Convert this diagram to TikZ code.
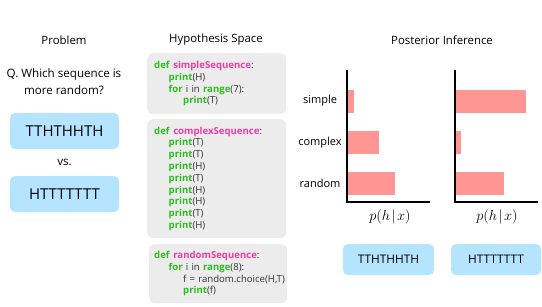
\documentclass[tikz,border=0pt]{standalone}
\usepackage{fontspec}
\setmainfont{Open Sans}
\usepackage{xcolor}
\usepackage{tikz}
\usetikzlibrary{positioning}
\definecolor{seqblue}{RGB}{180,228,255}
\definecolor{codegray}{RGB}{236,236,236}
\definecolor{codegreen}{RGB}{45,190,30}
\definecolor{codepink}{RGB}{240,60,160}
\definecolor{barred}{RGB}{255,150,148}
\newcommand{\kw}[1]{\textcolor{codegreen}{\textbf{#1}}}
\newcommand{\fname}[1]{\textcolor{codepink}{\textbf{#1}}}
\newcommand{\ind}{\hspace*{14.5pt}}
\tikzset{
  title/.style={font=\fontsize{11.4}{13}\selectfont},
  question/.style={align=center, font=\fontsize{11.6}{17}\selectfont},
  seqbox/.style={
    rectangle, rounded corners=5pt, fill=seqblue,
    minimum width=109pt, minimum height=36pt, inner sep=0pt,
    font=\fontsize{15}{18}\selectfont
  },
  smallseq/.style={seqbox, minimum width=91pt, minimum height=31pt, font=\fontsize{11.8}{14}\selectfont},
  codebox/.style={
    rectangle, rounded corners=6pt, fill=codegray, anchor=north west,
    text width=125pt, inner xsep=7pt, inner ysep=0pt, align=left,
    text=black!80, font=\fontsize{9.6}{11.8}\selectfont
  },
  hlabel/.style={font=\fontsize{11}{12}\selectfont},
  axis/.style={line width=1.5pt, draw=black},
  bar/.style={fill=barred},
}

\begin{document}
\begin{tikzpicture}[x=1pt, y=-1pt, node distance=4pt]
    \useasboundingbox (0,0) rectangle (542,306);
    % problem
    \node[title] (probtitle) at (64,40) {Problem};
    \node[question] (question) at (64,81.5) {Q. Which sequence is\\more random?};
    \node[seqbox] (seqa) at (64.5,131) {TTHTHHTH};
    \node[font=\fontsize{11.6}{12}\selectfont] (vs) at (64.5,162) {vs.};
    \node[seqbox] (seqb) at (64.5,194) {HTTTTTTT};

    % hypotheses
    \node[title] (hyptitle) at (216,40) {Hypothesis Space};
    \node[codebox, minimum height=61pt] (simplecode) at (147,53) {%
      \kw{def} \fname{simpleSequence}:\\
      \ind\kw{print}(H)\\
      \ind\kw{for} i in \kw{range}(7):\\
      \ind\ind\kw{print}(T)};
    \node[codebox, minimum height=119pt] (complexcode) at (147,119) {%
      \kw{def} \fname{complexSequence}:\\
      \ind\kw{print}(T)\\
      \ind\kw{print}(T)\\
      \ind\kw{print}(H)\\
      \ind\kw{print}(T)\\
      \ind\kw{print}(H)\\
      \ind\kw{print}(H)\\
      \ind\kw{print}(T)\\
      \ind\kw{print}(H)};
    \node[codebox, minimum height=59pt, inner xsep=5pt, text width=128pt] (randomcode) at (149,244) {%
      \kw{def} \fname{randomSequence}:\\
      \ind\kw{for} i in \kw{range}(8):\\
      \ind\ind\mbox{f = random.choice(H,T)}\\
      \ind\ind\kw{print}(f)};

    % posterior
    \node[title] (posttitle) at (442,40) {Posterior Inference};
    \draw[axis] (347,70) -- (347,202) -- (430,202);
    \draw[axis] (455,70) -- (455,202) -- (538,202);
    \foreach \name/\y/\wa/\wb in {simple/101/6/70, complex/142.5/31/5, random/183.5/47/48} {
      \node[hlabel] (lab-\name) at (320,\y) {\name};
      \fill[bar] (347.75,{\y-11.5}) rectangle ++(\wa,23);
      \fill[bar] (455.75,{\y-11.5}) rectangle ++(\wb,23);
    }
    \node[font=\fontsize{14.5}{16}\selectfont] (pa) at (390,217) {$p(h\mkern2mu|\mkern2mu x)$};
    \node[font=\fontsize{14.5}{16}\selectfont] (pb) at (497,217) {$p(h\mkern2mu|\mkern2mu x)$};
    \node[smallseq] (seqc) at (388.5,259.5) {TTHTHHTH};
    \node[smallseq, minimum width=90pt] (seqd) at (496,259.5) {HTTTTTTT};
  \end{tikzpicture}
\end{document}
